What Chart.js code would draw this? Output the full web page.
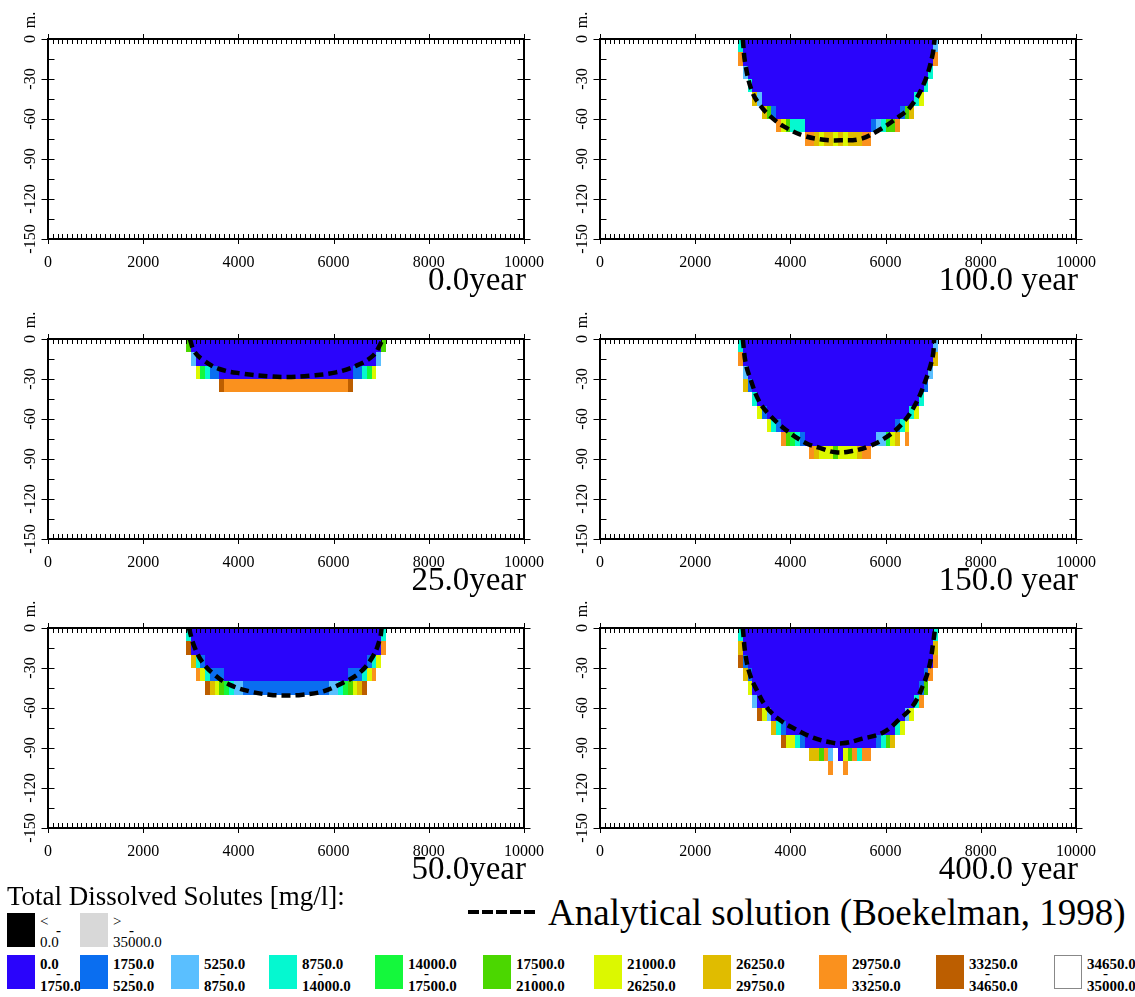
<!DOCTYPE html>
<html>
<head>
<meta charset="utf-8">
<script src="https://cdn.jsdelivr.net/npm/chart.js@4.4.1/dist/chart.umd.min.js"></script>
<style>
  body { margin: 0; background: #fff; }
  #page { position: relative; width: 1135px; height: 997px; overflow: hidden; font-family: "Liberation Serif", "Times New Roman", serif; color: #000; }
  canvas.panel { position: absolute; }
  .abs { position: absolute; white-space: nowrap; line-height: 1; }
  .box { position: absolute; width: 28px; height: 34px; box-sizing: border-box; }
  .lab { position: absolute; font-size: 15px; line-height: 15px; white-space: nowrap; }
</style>
</head>
<body>
<div id="page"></div>
<script>
// axis ticks
const xTicks = [0, 2000, 4000, 6000, 8000, 10000];
const xTickLabels = ['0', '2000', '4000', '6000', '8000', '10000'];
const yTicks = [-150, -120, -90, -60, -30, 0];
const yTickLabels = ['-150', '-120', '-90', '-60', '-30', '0'];

// concentration classes [mg/l]
const classLow = ['0.0', '1750.0', '5250.0', '8750.0', '14000.0', '17500.0', '21000.0', '26250.0', '29750.0', '33250.0', '34650.0'];
const classHigh = ['1750.0', '5250.0', '8750.0', '14000.0', '17500.0', '21000.0', '26250.0', '29750.0', '33250.0', '34650.0', '35000.0'];
const classColors = ['#2a04fb', '#0a6ef0', '#5abfff', '#05f8d0', '#14f83c', '#4bd700', '#dcf800', '#e0bc00', '#fa911e', '#bc5e00', '#ffffff'];

// model cells, one row per 10 m layer: [depth of top, x0, class, x1, class, x2, ...]  (class -1 = none)
const cells25 = [
  [0, 2900, 5, 3000, 0, 7000, 5, 7100],
  [10, 3000, 2, 3100, 0, 6900, 2, 7000],
  [20, 3100, 6, 3200, 4, 3300, 3, 3400, 1, 3600, 0, 6400, 1, 6600, 3, 6700, 4, 6800, 6, 6900],
  [30, 3600, 9, 3700, 8, 6300, 9, 6400]
];
const cells50 = [
  [0, 2900, 3, 3000, 0, 7000, 3, 7100],
  [10, 2900, 9, 3000, 0, 7000, 8, 7100],
  [20, 3000, 7, 3100, 3, 3200, 1, 3300, 0, 6700, 1, 6800, 3, 6900, 6, 7000],
  [30, 3100, 8, 3200, 6, 3300, 3, 3400, 1, 3700, 0, 6300, 1, 6600, 3, 6700, 6, 6800, 8, 6900],
  [40, 3300, 9, 3400, 7, 3500, 6, 3600, 5, 3700, 4, 3800, 3, 3900, 2, 4100, 1, 5900, 2, 6100, 3, 6200, 4, 6300, 5, 6400, 6, 6500, 7, 6600, 9, 6700]
];
const cells100 = [
  [0, 2900, 3, 3000, 0, 7000, 2, 7100],
  [10, 2900, 8, 3000, 0, 7000, 8, 7100],
  [20, 3000, 2, 3100, 0, 6900, 3, 7000],
  [30, 3100, 3, 3200, 0, 6800, 3, 6900],
  [40, 3200, 7, 3300, 2, 3400, 0, 6600, 3, 6700, 6, 6800],
  [50, 3400, 7, 3500, 5, 3600, 1, 3700, 0, 6300, 1, 6400, 5, 6500, 7, 6600],
  [60, 3700, 8, 3800, 6, 3900, 5, 4000, 3, 4300, 0, 5700, 1, 5800, 2, 5900, 3, 6000, 5, 6200, 8, 6300],
  [70, 4300, 8, 4500, 7, 4600, 6, 4700, 7, 4900, 6, 5000, 7, 5100, 6, 5200, 7, 5500, 8, 5700]
];
const cells150 = [
  [0, 2900, 3, 3000, 0, 7000, 2, 7100],
  [10, 2900, 8, 3000, 0, 7000, 7, 7100],
  [20, 3000, 2, 3100, 0, 6900, 2, 7000],
  [30, 3000, 7, 3100, 1, 3200, 0, 6800, 1, 6900],
  [40, 3200, 3, 3300, 0, 6700, 3, 6800],
  [50, 3300, 6, 3400, 1, 3500, 0, 6500, 3, 6600, 6, 6700],
  [60, 3500, 6, 3600, 3, 3700, 1, 3800, 0, 6200, 1, 6300, 3, 6400, 6, 6500],
  [70, 3800, 8, 3900, 5, 4000, 4, 4100, 3, 4200, 1, 4300, 0, 5800, 2, 6000, 4, 6100, 6, 6200, 7, 6300, -1, 6400, 8, 6500],
  [80, 4400, 8, 4500, 7, 4600, 6, 4900, 5, 5000, 6, 5400, 7, 5500, 8, 5700]
];
const cells400 = [
  [0, 2900, 3, 3000, 0, 7000, 3, 7100],
  [10, 2900, 7, 3000, 0, 7000, 7, 7100],
  [20, 2900, 9, 3000, 1, 3100, 0, 7000, 8, 7100],
  [30, 3000, 7, 3100, 1, 3200, 0, 6800, 1, 6900, 8, 7000],
  [40, 3100, 6, 3200, 0, 6700, 1, 6800, 5, 6900],
  [50, 3200, 2, 3300, 0, 6600, 3, 6700, 8, 6800],
  [60, 3300, 9, 3400, 6, 3500, 2, 3600, 0, 6400, 2, 6500, 6, 6600],
  [70, 3600, 7, 3700, 3, 3800, 1, 3900, 0, 6200, 3, 6300, 6, 6400],
  [80, 3800, 9, 3900, 6, 4100, 3, 4200, 1, 4300, 0, 5800, 1, 5900, 3, 6000, 5, 6100, 7, 6200],
  [90, 4400, 7, 4600, 5, 4700, 8, 4800, 2, 4900, -1, 5000, 0, 5100, 6, 5200, 5, 5300, 8, 5400, 3, 5500, 8, 5700],
  [100, 4800, 8, 4900, -1, 5100, 8, 5200]
];

// analytical interface (Boekelman, 1998): [x m, elevation m]
const curve25 = [[2980, 0], [3070, -9], [3250, -15.5], [3600, -22.5], [4100, -26], [4650, -28], [5000, -28.5], [5500, -27.5], [6050, -25], [6480, -20], [6830, -12.5], [6980, -4], [7030, 0]];
const curve50 = [[2960, 0], [3070, -13.5], [3250, -26], [3530, -36], [3810, -42.5], [4230, -47.5], [4650, -50], [5000, -50.6], [5350, -50], [5780, -47.5], [6200, -41], [6550, -33.5], [6830, -21], [6970, -8.5], [7010, 0]];
const curve100 = [[3000, 0], [3050, -18], [3190, -39], [3370, -50], [3580, -58], [3860, -65.5], [4280, -72.5], [4700, -75.5], [5050, -76], [5470, -75], [5830, -69], [6250, -59], [6530, -50.5], [6810, -33], [6980, -13], [7030, 0]];
const curve150 = [[3000, 0], [3060, -18], [3160, -30], [3340, -46.5], [3550, -56.5], [3900, -68], [4320, -78], [4600, -81.5], [4950, -85], [5300, -84], [5650, -80.5], [6000, -74], [6360, -63], [6640, -48], [6850, -30], [6990, -13], [7020, 0]];
const curve400 = [[3000, 0], [3060, -21], [3160, -36], [3300, -47], [3480, -58.5], [3760, -68.5], [4110, -76], [4460, -82], [4810, -85.5], [5090, -86.5], [5510, -83], [5940, -78.5], [6290, -68.5], [6570, -58.5], [6780, -43.5], [6920, -28.5], [7000, -11], [7040, 0]];

const panels = [
  { title: '0.0year', col: 0, row: 0, cells: [], curve: null },
  { title: '100.0 year', col: 1, row: 0, cells: cells100, curve: curve100 },
  { title: '25.0year', col: 0, row: 1, cells: cells25, curve: curve25 },
  { title: '150.0 year', col: 1, row: 1, cells: cells150, curve: curve150 },
  { title: '50.0year', col: 0, row: 2, cells: cells50, curve: curve50 },
  { title: '400.0 year', col: 1, row: 2, cells: cells400, curve: curve400 }
];

const colLeft = [0, 552];
const rowTop = [0, 300, 589];
const SERIF = '"Liberation Serif", "Times New Roman", serif';
const page = document.getElementById('page');

// filled model cells under the dashed line
const cellPlugin = {
  id: 'cells',
  beforeDatasetsDraw(chart, args, opts) {
    const { ctx, scales: { x, y } } = chart;
    ctx.save();
    opts.rows.forEach(row => {
      const t = Math.round(y.getPixelForValue(-row[0]));
      const b = Math.round(y.getPixelForValue(-row[0] - 10));
      for (let i = 1; i + 2 < row.length; i += 2) {
        const cls = row[i + 1];
        if (cls < 0) continue;
        const l = Math.round(x.getPixelForValue(row[i]));
        const r = Math.round(x.getPixelForValue(row[i + 2]));
        ctx.fillStyle = classColors[cls];
        ctx.fillRect(l, t, r - l, b - t);
      }
    });
    ctx.restore();
  }
};

// box, tick marks, unit and time label
const framePlugin = {
  id: 'frame',
  afterDraw(chart, args, opts) {
    const { ctx, chartArea: a, scales: { x, y } } = chart;
    ctx.save();
    ctx.strokeStyle = '#000';
    ctx.lineWidth = 1;
    ctx.beginPath();
    for (let v = 0; v <= 10000; v += 100) {
      const px = Math.round(x.getPixelForValue(v)) + 0.5;
      const major = v % 2000 === 0;
      ctx.moveTo(px, a.top - (major ? 5 : 0)); ctx.lineTo(px, a.top + 5);
      ctx.moveTo(px, a.bottom + (major ? 5 : 0)); ctx.lineTo(px, a.bottom - 5);
    }
    for (let v = -150; v <= 0; v += 15) {
      const py = Math.round(y.getPixelForValue(v)) + 0.5;
      const major = v % 30 === 0;
      ctx.moveTo(a.left - (major ? 6.5 : 0), py); ctx.lineTo(a.left + 6.5, py);
      ctx.moveTo(a.right + (major ? 6.5 : 0), py); ctx.lineTo(a.right - 6.5, py);
    }
    ctx.stroke();
    ctx.lineWidth = 2;
    ctx.strokeRect(a.left, a.top, a.right - a.left, a.bottom - a.top);

    ctx.fillStyle = '#000';
    ctx.font = '16px ' + SERIF;
    ctx.translate(a.left - 17, a.top - 19);
    ctx.rotate(-Math.PI / 2);
    ctx.textAlign = 'center';
    ctx.textBaseline = 'middle';
    ctx.fillText('m.', 0, 0);
    ctx.restore();

    ctx.save();
    ctx.fillStyle = '#000';
    ctx.font = '33px ' + SERIF;
    ctx.textAlign = 'right';
    ctx.textBaseline = 'alphabetic';
    ctx.fillText(opts.title, a.right + 2, a.bottom + 51);
    ctx.restore();
  }
};

panels.forEach(p => {
  const cv = document.createElement('canvas');
  cv.className = 'panel';
  cv.width = 560; cv.height = 300;
  cv.style.left = colLeft[p.col] + 'px';
  cv.style.top = rowTop[p.row] + 'px';
  page.appendChild(cv);

  const datasets = p.curve ? [{
    data: p.curve.map(([px, py]) => ({ x: px, y: py })),
    showLine: true,
    borderColor: '#000',
    borderWidth: 4.5,
    borderDash: [9, 5],
    borderCapStyle: 'butt',
    pointRadius: 0,
    tension: 0.4,
    fill: false
  }] : [];

  new Chart(cv, {
    type: 'scatter',
    data: { datasets },
    options: {
      responsive: false,
      animation: false,
      events: [],
      layout: { padding: { left: 0, right: 36, top: 39, bottom: 21 } },
      plugins: {
        legend: { display: false },
        tooltip: { enabled: false },
        cells: { rows: p.cells },
        frame: { title: p.title }
      },
      scales: {
        x: {
          type: 'linear', min: 0, max: 10000,
          afterBuildTicks: s => { s.ticks = xTicks.map(v => ({ value: v })); },
          afterFit: s => { s.height = 40; },
          grid: { display: false, drawTicks: false },
          border: { display: false },
          ticks: {
            autoSkip: false, maxRotation: 0, padding: 14, color: '#000',
            font: { family: SERIF, size: 16 },
            callback: (v, i) => xTickLabels[i]
          }
        },
        y: {
          type: 'linear', min: -150, max: 0,
          afterBuildTicks: s => { s.ticks = yTicks.map(v => ({ value: v })); },
          afterFit: s => { s.width = 48; },
          grid: { display: false, drawTicks: false },
          border: { display: false },
          ticks: {
            minRotation: 90, maxRotation: 90, crossAlign: 'center', padding: 3, color: '#000',
            font: { family: SERIF, size: 16 },
            callback: (v, i) => yTickLabels[i]
          }
        }
      }
    },
    plugins: [cellPlugin, framePlugin]
  });
});

// legend
const legendCols = [7, 80, 171, 269, 375, 483, 594, 703, 819, 936, 1054];
function addEl(cls, left, top, text, style) {
  const d = document.createElement('div');
  d.className = cls;
  d.style.left = left + 'px';
  d.style.top = top + 'px';
  if (text !== undefined) d.textContent = text;
  if (style) Object.assign(d.style, style);
  page.appendChild(d);
  return d;
}
addEl('abs', 7, 883, 'Total Dissolved Solutes [mg/l]:', { fontSize: '27px' });
addEl('abs', 468, 910, undefined, { width: '67px', height: '4px', background: 'repeating-linear-gradient(to right,#000 0 11px,transparent 11px 14px)' });
addEl('abs', 548, 894, 'Analytical solution (Boekelman, 1998)', { fontSize: '37px' });

const outOfRange = [['#000000', '<', '0.0'], ['#d8d8d8', '>', '35000.0']];
outOfRange.forEach(([c, a, b], i) => {
  const bx = legendCols[i];
  addEl('box', bx, 913, undefined, { background: c });
  addEl('lab', bx + 33, 914, a);
  addEl('lab', bx + 49, 923, '-', { fontWeight: 'bold' });
  addEl('lab', bx + 33, 935, b);
});
classColors.forEach((c, i) => {
  const bx = legendCols[i];
  addEl('box', bx, 955, undefined, { background: c, border: i === 10 ? '1px solid #888' : 'none' });
  addEl('lab', bx + 33, 957, classLow[i], { fontWeight: 'bold' });
  addEl('lab', bx + 49, 966, '-', { fontWeight: 'bold' });
  addEl('lab', bx + 33, 979, classHigh[i], { fontWeight: 'bold' });
});
</script>
</body>
</html>
